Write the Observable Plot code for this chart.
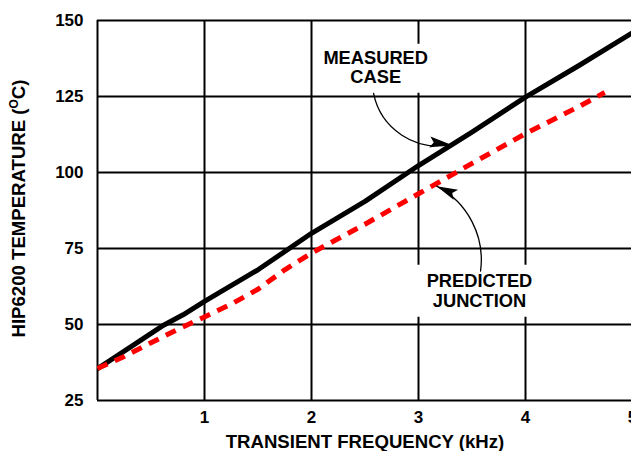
<!DOCTYPE html>
<html>
<head>
<meta charset="utf-8">
<script src="https://cdn.jsdelivr.net/npm/d3@7"></script>
<script src="https://cdn.jsdelivr.net/npm/@observablehq/plot@0.6"></script>
<style>
  html, body { margin: 0; padding: 0; background: white; }
  #chart svg { display: block; }
</style>
</head>
<body>
<div id="chart"></div>
<script>
// ---- data ----
const xTicks = [1, 2, 3, 4, 5];
const xGrid = [0, 1, 2, 3, 4];
const yTicks = [25, 50, 75, 100, 125, 150];

const measuredFreq = [0, 0.3, 0.6, 0.8, 1, 1.5, 2, 2.5, 3, 3.5, 4, 4.5, 5];
const measuredTemp = [35.5, 42.4, 49.4, 53.2, 57.6, 68, 80, 90.5, 102.3, 113.3, 124.8, 135.2, 146];

const predictedFreq = [0, 0.25, 0.5, 0.75, 1, 1.25, 1.5, 1.75, 2, 2.5, 3, 3.5, 4, 4.5, 4.74];
const predictedTemp = [35.5, 39.5, 44, 48.4, 52.5, 56.7, 61.6, 68, 73.5, 83, 93, 103, 112.8, 121.7, 126.3];

const labelText = ["MEASURED\nCASE", "PREDICTED\nJUNCTION"];
const labelX = [2.6, 3.57];
const labelY = [134.6, 61.1];

// arrows: start (x1,y1) -> tip (x2,y2)
const arrowX1 = [2.58, 3.58];
const arrowY1 = [126, 67.6];
const arrowX2 = [3.3, 3.17];
const arrowY2 = [109.2, 95.5];
const arrowAngle = [97, -66];

const xTitle = "TRANSIENT FREQUENCY (kHz)";
const yTitle = "HIP6200 TEMPERATURE (OC)";

// ---- build tables ----
const measured = measuredFreq.map((f, i) => ({f, t: measuredTemp[i]}));
const predicted = predictedFreq.map((f, i) => ({f, t: predictedTemp[i]}));
const labels = labelText.map((s, i) => ({s, x: labelX[i], y: labelY[i]}));
const arrows = arrowX1.map((x1, i) => ({x1, y1: arrowY1[i], x2: arrowX2[i], y2: arrowY2[i], a: arrowAngle[i]}));

const boxSymbol = (w, h) => ({draw(ctx) { ctx.rect(-w / 2, -h / 2, w, h); }});
const headSymbol = {draw(ctx) {
  ctx.moveTo(0, 0); ctx.lineTo(5.5, 21); ctx.lineTo(0, 17); ctx.lineTo(-5.5, 21); ctx.closePath();
}};

const font = "'Liberation Sans', Arial, Helvetica, sans-serif";

const chart = Plot.plot({
  width: 631,
  height: 451,
  marginLeft: 97,
  marginRight: -1,
  marginTop: 20,
  marginBottom: 51,
  x: {domain: [0, 5]},
  y: {domain: [25, 150]},
  style: {fontFamily: font, fontWeight: "bold", background: "white", color: "black"},
  marks: [
    Plot.ruleY(yTicks, {stroke: "black", strokeWidth: 2}),
    Plot.ruleX(xGrid, {stroke: "black", strokeWidth: 2}),
    // white label backgrounds
    Plot.dot([labels[0]], {x: "x", y: "y", dy: 1, symbol: boxSymbol(124, 49), fill: "white", stroke: null}),
    Plot.dot([labels[1]], {x: "x", y: "y", symbol: boxSymbol(136, 52), fill: "white", stroke: null}),
    Plot.line(measured, {x: "f", y: "t", stroke: "black", strokeWidth: 5, clip: true}),
    Plot.line(predicted, {x: "f", y: "t", stroke: "#ff0000", strokeWidth: 5, strokeDasharray: "11,8", strokeLinecap: "butt", clip: true}),
    Plot.text(labels, {x: "x", y: "y", text: "s", fontSize: 18.3, lineHeight: 1.05, fontWeight: "bold", fill: "black"}),
    Plot.arrow([arrows[0]], {x1: "x1", y1: "y1", x2: "x2", y2: "y2", bend: -45, headLength: 0, stroke: "black", strokeWidth: 1.3}),
    Plot.arrow([arrows[1]], {x1: "x1", y1: "y1", x2: "x2", y2: "y2", bend: -35, headLength: 0, stroke: "black", strokeWidth: 1.3}),
    Plot.dot(arrows, {x: "x2", y: "y2", rotate: "a", symbol: headSymbol, fill: "black", stroke: null}),
    Plot.axisX({ticks: xTicks, tickSize: 0, tickPadding: 10, fontSize: 17, label: null, tickFormat: d => String(d)}),
    Plot.axisY({ticks: yTicks, tickSize: 0, tickPadding: 14, fontSize: 17, label: null, tickFormat: d => String(d)}),
    Plot.text([xTitle], {frameAnchor: "bottom", textAnchor: "middle", lineAnchor: "middle", dy: 42, fontSize: 18.6, fontWeight: "bold", fill: "black"}),
    Plot.text([yTitle], {frameAnchor: "left", textAnchor: "middle", lineAnchor: "middle", dx: -78, dy: -2, rotate: -90, fontSize: 18.6, fontWeight: "bold", fill: "black"})
  ]
});

document.getElementById("chart").appendChild(chart);

// superscript O in the y title
d3.select(chart).selectAll("text").each(function () {
  if (this.textContent === yTitle) {
    const t = d3.select(this);
    t.text(null);
    t.append("tspan").text("HIP6200 TEMPERATURE (");
    t.append("tspan").attr("font-size", 12).attr("dy", -7).text("O");
    t.append("tspan").attr("dy", 7).text("C)");
  }
});
</script>
</body>
</html>
